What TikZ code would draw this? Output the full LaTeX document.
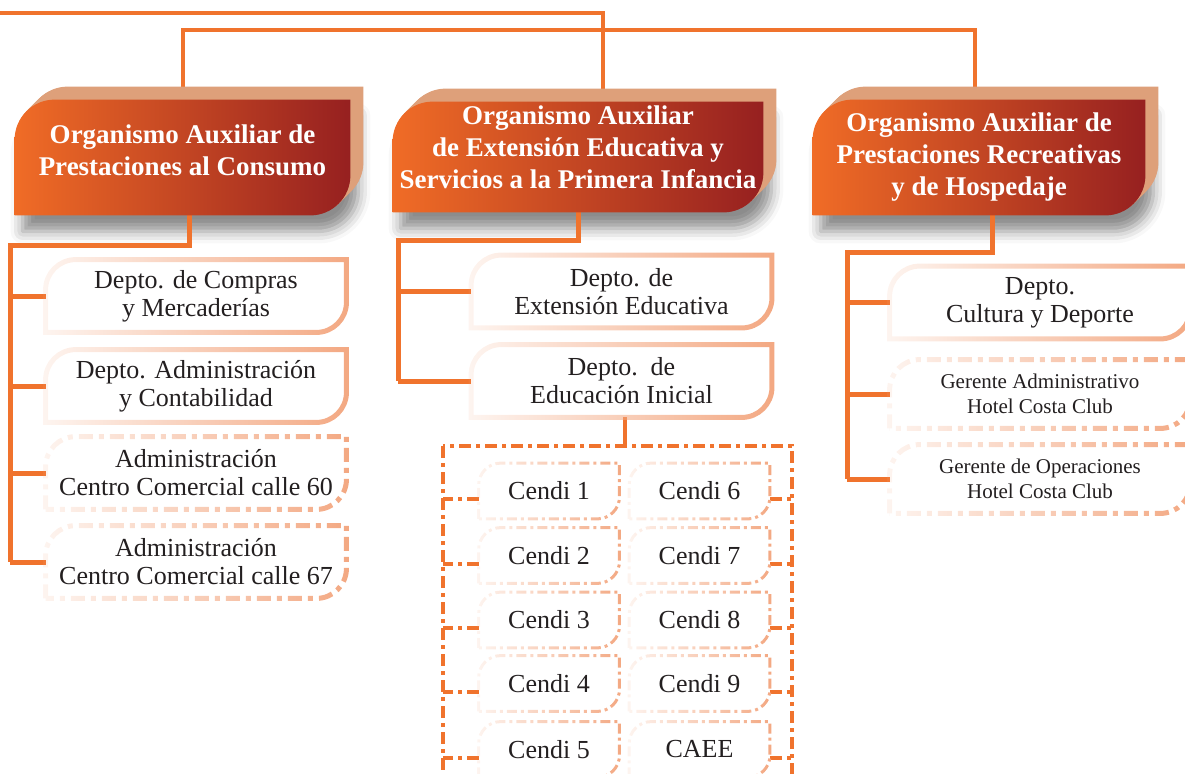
\documentclass[tikz,border=0pt]{standalone}
\usepackage{fontspec}
\setmainfont{Liberation Serif}
\usetikzlibrary{calc,backgrounds,fadings,shadows.blur}

\definecolor{linkorange}{RGB}{240,115,45}
\definecolor{headleft}{RGB}{240,108,38}
\definecolor{headright}{RGB}{150,32,32}
\definecolor{headtop}{RGB}{222,160,122}
\definecolor{leafpeach}{RGB}{243,168,130}
\definecolor{inkgray}{RGB}{35,31,32}

\tikzfading[name=leaffade, left color=transparent!88, right color=transparent!0]

% frame with round top-left and bottom-right corners: node, radius, dx, dy, options
\newcommand{\tabshape}[5]{%
  \path[#5] ($(#1.south west)+(#3,#4)$)
    -- ($(#1.north west)+(#3,{#2+(#4)})$)
    .. controls ($(#1.north west)+(#3,{0.45*#2+(#4)})$) and ($(#1.north west)+({0.45*#2+(#3)},#4)$)
    .. ($(#1.north west)+({#2+(#3)},#4)$)
    -- ($(#1.north east)+(#3,#4)$)
    -- ($(#1.south east)+(#3,{-#2+(#4)})$)
    .. controls ($(#1.south east)+(#3,{-0.45*#2+(#4)})$) and ($(#1.south east)+({-0.45*#2+(#3)},#4)$)
    .. ($(#1.south east)+({-#2+(#3)},#4)$)
    -- cycle;}

\tikzset{
  head/.style={text=white, font=\fontsize{13.5}{16}\selectfont\bfseries, align=center, inner sep=0pt},
  leaf/.style={text=inkgray, font=\fontsize{13}{14}\selectfont, align=center, inner sep=0pt,
    minimum width=150pt, minimum height=36pt},
  hotelleaf/.style={leaf, font=\fontsize{10.5}{12.5}\selectfont, minimum height=34pt},
  cendi/.style={leaf, minimum width=70pt, minimum height=27.5pt},
  trunk/.style={draw=linkorange, line width=2.5pt},
  toplink/.style={draw=linkorange, line width=2pt},
  cendilink/.style={draw=linkorange, line width=2pt, dash pattern=on 6pt off 2.5pt on 2pt off 2.5pt},
  leafline/.style={draw=leafpeach, line width=2.5pt, path fading=leaffade},
  leafdash/.style={leafline, dash pattern=on 7pt off 3pt on 2.5pt off 3pt},
  cendiline/.style={draw=leafpeach, line width=1.5pt, path fading=leaffade,
    dash pattern=on 5pt off 2pt on 1.5pt off 2pt},
  headshadow/.style={blur shadow={shadow xshift=4pt, shadow yshift=-8pt,
    shadow blur radius=6pt, shadow opacity=45}}
}

\begin{document}
\begin{tikzpicture}[x=0.5pt, y=-0.5pt]
  \useasboundingbox (0,0) rectangle (1185,773);

  % heads
  \node[head, minimum width=167.5pt, minimum height=57.5pt, text depth=7.5pt] (h1) at (182.5,157.5)
    {Organismo Auxiliar de\\Prestaciones al Consumo};
  \node[head, minimum width=185pt, minimum height=55pt, text depth=10pt] (h2) at (578,157)
    {Organismo Auxiliar\\de Extensión Educativa y\\Servicios a la Primera Infancia};
  \node[head, minimum width=166pt, minimum height=57.5pt] (h3) at (979,157.5)
    {Organismo Auxiliar de\\Prestaciones Recreativas\\y de Hospedaje};

  % left column
  \node[leaf] (d11) at (196,296) {Depto. de Compras\\y Mercaderías};
  \node[leaf] (d12) at (196,386) {Depto. Administración\\y Contabilidad};
  \node[leaf] (d13) at (196,473) {Administración\\Centro Comercial calle 60};
  \node[leaf] (d14) at (196,562) {Administración\\Centro Comercial calle 67};

  % middle column
  \node[leaf] (d21) at (621.5,291.5) {Depto. de\\Extensión Educativa};
  \node[leaf] (d22) at (621.5,381) {Depto.\ \ de\\Educación Inicial};

  % right column
  \node[leaf] (d31) at (1040,302.5) {Depto.\\Cultura y Deporte};
  \node[hotelleaf] (d32) at (1040,394) {Gerente Administrativo\\Hotel Costa Club};
  \node[hotelleaf] (d33) at (1040,479) {Gerente de Operaciones\\Hotel Costa Club};

  % cendis
  \node[cendi] (k1) at (549,491) {Cendi 1};
  \node[cendi] (k2) at (549,555.5) {Cendi 2};
  \node[cendi] (k3) at (549,620) {Cendi 3};
  \node[cendi] (k4) at (549,683.5) {Cendi 4};
  \node[cendi] (k5) at (549,749.5) {Cendi 5};
  \node[cendi] (k6) at (699.5,491) {Cendi 6};
  \node[cendi] (k7) at (699.5,555.5) {Cendi 7};
  \node[cendi] (k8) at (699.5,620) {Cendi 8};
  \node[cendi] (k9) at (699.5,683.5) {Cendi 9};
  \node[cendi] (k10) at (699.5,749.5) {CAEE};

  \coordinate (top1) at (0,13);
  \coordinate (top2) at (0,30);
  \coordinate (v2) at ([xshift=12.5pt]h2.north);
  \coordinate (v3) at ([xshift=-2pt]h3.north);
  \coordinate (t1) at (10,245);
  \coordinate (t2) at (398,240);
  \coordinate (t3) at (847,252);
  \coordinate (boxnw) at (443,446);
  \coordinate (boxse) at (792,800);

  \begin{scope}[on background layer]
    \clip (0,0) rectangle (1185,773);
    % shadows
    \foreach \hh in {h1,h2,h3}
      \tabshape{\hh}{40}{0}{0}{headshadow};

    % links
    \draw[toplink] (top1) -- (top1 -| v2) -- (v2);
    \draw[toplink] (h1.north) -- (h1.north |- top2) -- (v3 |- top2) -- (v3);
    \draw[trunk] ([xshift=3.5pt]h1.south) |- (t1) -- (t1 |- d14.west);
    \draw[trunk] (h2.south) |- (t2) -- (t2 |- d22.west);
    \draw[trunk] ([xshift=6.5pt]h3.south) |- (t3) -- (t3 |- d33.west);
    \foreach \n in {d11,d12,d13,d14}
      \draw[trunk] (t1 |- \n.west) -- (\n.west);
    \foreach \n in {d21,d22}
      \draw[trunk] (t2 |- \n.west) -- (\n.west);
    \foreach \n in {d31,d32,d33}
      \draw[trunk] (t3 |- \n.west) -- (\n.west);
    \draw[trunk, line width=2pt] ([xshift=1.75pt]d22.south) -- ([xshift=1.75pt]d22.south |- boxnw);
    \draw[cendilink] (boxnw) rectangle (boxse);
    \foreach \n in {k1,k2,k3,k4,k5}
      \draw[cendilink] ([yshift=-4pt]\n.west) -- ([yshift=-4pt]\n.west -| boxnw);
    \foreach \n in {k6,k7,k8,k9,k10}
      \draw[cendilink] ([yshift=-4pt]\n.east) -- ([yshift=-4pt]\n.east -| boxse);

    % head blocks
    \foreach \hh in {h1,h2,h3}{
      \foreach \dd in {13,12,...,1}
        \tabshape{\hh}{40}{\dd}{-\dd}{fill=headtop};
      \tabshape{\hh}{40}{0}{0}{left color=headleft, right color=headright};
    }

    % leaf frames
    \foreach \n in {d11,d12,d21,d22,d31}
      \tabshape{\n}{30}{0}{0}{leafline};
    \foreach \n in {d13,d14,d32,d33}
      \tabshape{\n}{30}{0}{0}{leafdash};
    \foreach \n in {k1,k2,k3,k4,k5,k6,k7,k8,k9,k10}
      \tabshape{\n}{22}{0}{0}{cendiline};
  \end{scope}
\end{tikzpicture}
\end{document}
